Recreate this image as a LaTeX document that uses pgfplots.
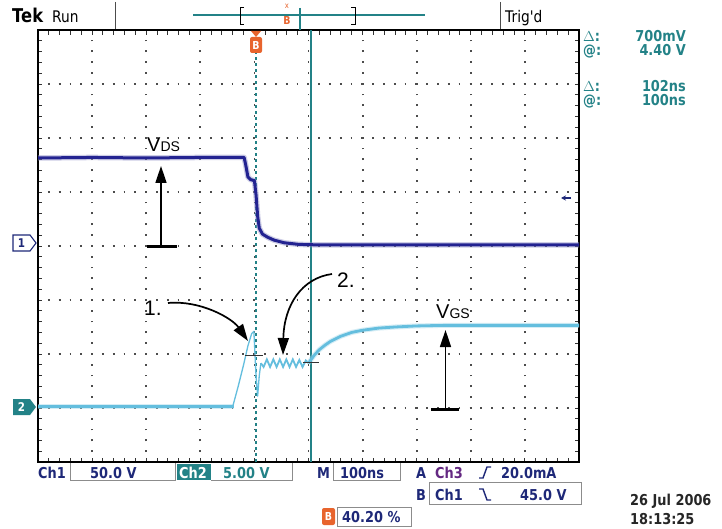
\documentclass[border=0pt]{standalone}
\usepackage{pgfplots}
\pgfplotsset{compat=1.18}
\usepackage{fontspec}
\setmainfont{Liberation Sans}
\newfontfamily\scopef[FakeStretch=0.86]{DejaVu Sans}
\newfontfamily\annf{Liberation Sans}
\usetikzlibrary{arrows.meta}
\newcommand{\fs}[1]{\fontsize{#1}{#1}\selectfont}
\definecolor{chA}{RGB}{35,35,145}
\definecolor{chB}{RGB}{100,190,222}
\definecolor{tealc}{RGB}{35,130,135}
\definecolor{navyt}{RGB}{30,40,120}
\definecolor{orangeB}{RGB}{232,100,45}
\definecolor{purp}{RGB}{100,40,130}
\begin{document}
\begin{tikzpicture}
\useasboundingbox (0pt,0pt) rectangle (722pt,-529pt);
\fill[white] (0pt,0pt) rectangle (722pt,-529pt);
\begin{axis}[
  at={(38pt,-462pt)}, anchor=south west,
  scale only axis, width=541pt, height=432pt,
  xmin=0, xmax=10, ymin=-4, ymax=4,
  xtick={0,...,10}, ytick={-4,...,4},
  xticklabels={}, yticklabels={},
  minor x tick num=4, minor y tick num=4,
  tick align=inside, xtick pos=both, ytick pos=both,
  major tick length=4.5pt, minor tick length=4.5pt,
  tick style={black!80, line width=1pt},
  grid=major,
  major grid style={draw=black!70, line width=1.8pt, dash pattern=on 1.8pt off 9.01pt, dash phase=0.9pt},
  axis line style={line width=2.6pt},
]
% cursors
\addplot[tealc, line width=1.4pt, dash pattern=on 3pt off 3pt] coordinates {(4.03,-4) (4.03,4)};
\addplot[tealc, line width=1.5pt] coordinates {(5.05,-4) (5.05,4)};
% Ch1 : V_DS
\addplot[chA!50, line width=5.5pt, opacity=0.45, line join=round] table {
0 1.63
1 1.64
2 1.63
3 1.64
3.81 1.64
3.84 1.50
3.88 1.28
3.93 1.23
4.00 1.21
4.03 0.95
4.06 0.55
4.09 0.33
4.15 0.22
4.25 0.16
4.36 0.11
4.55 0.06
4.82 0.03
5.2 0.02
10 0.02
};
\addplot[chA, line width=3pt, line join=round] table {
0 1.63
1 1.64
2 1.63
3 1.64
3.81 1.64
3.84 1.50
3.88 1.28
3.93 1.23
4.00 1.21
4.03 0.95
4.06 0.55
4.09 0.33
4.15 0.22
4.25 0.16
4.36 0.11
4.55 0.06
4.82 0.03
5.2 0.02
10 0.02
};
% Ch2 : V_GS
\addplot[chB!60, line width=5pt, opacity=0.45] table {
0 -2.97
3.62 -2.97
};
\addplot[chB, line width=2.8pt] table {
0 -2.97
3.62 -2.97
};
\addplot[chB, line width=1.3pt, line join=round] table {
3.60 -2.97
3.70 -2.60
3.80 -2.20
3.88 -1.85
3.95 -1.62
3.99 -1.58
4.03 -2.40
4.06 -2.78
4.09 -2.40
4.12 -2.17
};
\addplot[chB, line width=1.8pt, line join=miter] table {
4.12 -2.17
4.17 -2.24
4.23 -2.10
4.29 -2.24
4.35 -2.10
4.41 -2.24
4.47 -2.10
4.53 -2.24
4.59 -2.10
4.65 -2.24
4.71 -2.10
4.77 -2.24
4.83 -2.11
4.89 -2.24
4.95 -2.12
5.00 -2.17
};
\addplot[chB!60, line width=5pt, opacity=0.45, line join=round] table {
5.00 -2.17
5.10 -2.03
5.20 -1.92
5.30 -1.84
5.40 -1.77
5.60 -1.67
5.80 -1.60
6.00 -1.56
6.30 -1.52
6.60 -1.50
7.00 -1.48
7.50 -1.47
8.00 -1.47
10 -1.47
};
\addplot[chB, line width=2.8pt, line join=round] table {
5.00 -2.17
5.10 -2.03
5.20 -1.92
5.30 -1.84
5.40 -1.77
5.60 -1.67
5.80 -1.60
6.00 -1.56
6.30 -1.52
6.60 -1.50
7.00 -1.48
7.50 -1.47
8.00 -1.47
10 -1.47
};
% cursor level markers
\addplot[black!80, line width=1pt] coordinates {(3.83,-2.02) (4.16,-2.02)};
\addplot[black!80, line width=1pt] coordinates {(4.89,-2.15) (5.19,-2.15)};
\end{axis}
\begin{scope}[x=1pt,y=-1pt]
% ---------- top bar ----------
\node[anchor=base west, inner sep=0, font=\scopef\fs{19}\bfseries] at (12,23) {Tek};
\node[anchor=base west, inner sep=0, font=\scopef\fs{16}] at (52,23) {Run};
\draw[black!70, line width=0.8pt] (115,2) -- (115,29);
\draw[black!70, line width=0.8pt] (500,2) -- (500,29);
\node[anchor=base west, inner sep=0, font=\scopef\fs{16}] at (505,23) {Trig'd};
\draw[tealc, line width=1.2pt] (193,15) -- (425,15);
\draw[black, line width=1pt] (244,8) -- (240,8) -- (240,25) -- (244,25);
\draw[black, line width=1pt] (351,8) -- (355,8) -- (355,25) -- (351,25);
\draw[tealc, line width=1.2pt] (300,8) -- (300,30);
\node[inner sep=0, text=orangeB, font=\scopef\fs{8}] at (287,6) {x};
\node[inner sep=0, text=orangeB, font=\scopef\fs{11}\bfseries] at (287,20) {B};
% ---------- right readouts ----------
\begin{scope}[every node/.style={inner sep=0, text=tealc, font=\scopef\fs{15}\bfseries}]
\node[anchor=base west] at (583,42) {$\Delta$:};
\node[anchor=base east] at (686,42) {700mV};
\node[anchor=base west] at (583,56) {@:};
\node[anchor=base east] at (686,56) {4.40 V};
\node[anchor=base west] at (583,92) {$\Delta$:};
\node[anchor=base east] at (686,92) {102ns};
\node[anchor=base west] at (583,106) {@:};
\node[anchor=base east] at (686,106) {100ns};
\end{scope}
% ---------- channel markers ----------
\draw[navyt, line width=1.1pt, fill=white] (13,235) -- (30,235) -- (36,243) -- (30,251) -- (13,251) -- cycle;
\node[inner sep=0, text=navyt, font=\scopef\fs{12}\bfseries] at (21.5,243) {1};
\fill[tealc] (13,399) -- (30,399) -- (36,407) -- (30,415) -- (13,415) -- cycle;
\node[inner sep=0, text=white, font=\scopef\fs{12}\bfseries] at (21.5,407) {2};
\draw[navyt, line width=1.2pt, -{Stealth[length=5pt,width=5pt]}] (571,198) -- (561,198);
% ---------- orange trigger marker ----------
\fill[orangeB] (251,31) -- (261,31) -- (256,37) -- cycle;
\fill[orangeB, rounded corners=2pt] (250,37) rectangle (262,53);
\node[inner sep=0, text=white, font=\scopef\fs{11}\bfseries] at (256,45.5) {B};
% ---------- bottom bar ----------
\begin{scope}[every node/.style={inner sep=0, anchor=base west, font=\scopef\fs{15}\bfseries}]
\node[text=navyt] at (38,478) {Ch1};
\draw[black!45, line width=0.8pt] (70,463) -- (70,480) -- (175,480) -- (175,463);
\node[text=navyt] at (90,478) {50.0 V};
\fill[tealc] (177,464) rectangle (211,480);
\node[text=white] at (179,478) {Ch2};
\draw[black!45, line width=0.8pt] (211,480) -- (292,480) -- (292,463);
\node[text=tealc] at (223,478) {5.00 V};
\node[text=navyt] at (317,478) {M};
\draw[black!45, line width=0.8pt] (333,463) -- (333,480) -- (400,480) -- (400,463);
\node[text=navyt] at (340,478) {100ns};
\node[text=navyt] at (416,478) {A};
\node[text=purp] at (435,478) {Ch3};
\node[text=navyt] at (501,478) {20.0mA};
\node[text=navyt] at (416,500) {B};
\draw[black!45, line width=0.8pt] (429,482) rectangle (581,504);
\node[text=navyt] at (435,500) {Ch1};
\node[text=navyt] at (520,500) {45.0 V};
\node[text=black!85] at (630,505) {26 Jul 2006};
\node[text=black!85] at (630,524) {18:13:25};
\draw[black!45, line width=0.8pt] (337,507) rectangle (411,526);
\node[text=navyt] at (342,522) {40.20 \%};
\end{scope}
\draw[navyt, line width=1.4pt] (479,478) -- (483,478) -- (487,467) -- (491,467);
\draw[navyt, line width=1.4pt] (479,489) -- (483,489) -- (487,500) -- (491,500);
\fill[orangeB, rounded corners=2pt] (322,508) rectangle (335,525);
\node[inner sep=0, text=white, font=\scopef\fs{11}\bfseries] at (328.5,516.5) {B};
% ---------- annotations ----------
\node[anchor=base west, inner sep=0, font=\annf] at (147,152) {\fs{20}V\fs{14}DS};
\draw[line width=1.7pt, -{Triangle[length=17pt,width=11pt]}] (161,246) -- (161,166);
\draw[line width=3pt] (147,246) -- (177,246);
\node[anchor=base west, inner sep=0, font=\annf] at (436,318) {\fs{20}V\fs{14}GS};
\draw[line width=1.7pt, -{Triangle[length=17pt,width=11pt]}] (445.5,409) -- (445.5,330);
\draw[line width=3pt] (431,409) -- (459,409);
\node[anchor=base west, inner sep=0, font=\annf\fs{21}] at (144,315) {1.};
\draw[line width=1.7pt, -{Triangle[length=17pt,width=11pt]}] (168,303) .. controls (200,300) and (232,318) .. (248,341);
\node[anchor=base west, inner sep=0, font=\annf\fs{21}] at (337,287) {2.};
\draw[line width=1.7pt, -{Triangle[length=17pt,width=11pt]}] (332,274) .. controls (302,278) and (284,305) .. (283,355);
\end{scope}
\end{tikzpicture}
\end{document}
